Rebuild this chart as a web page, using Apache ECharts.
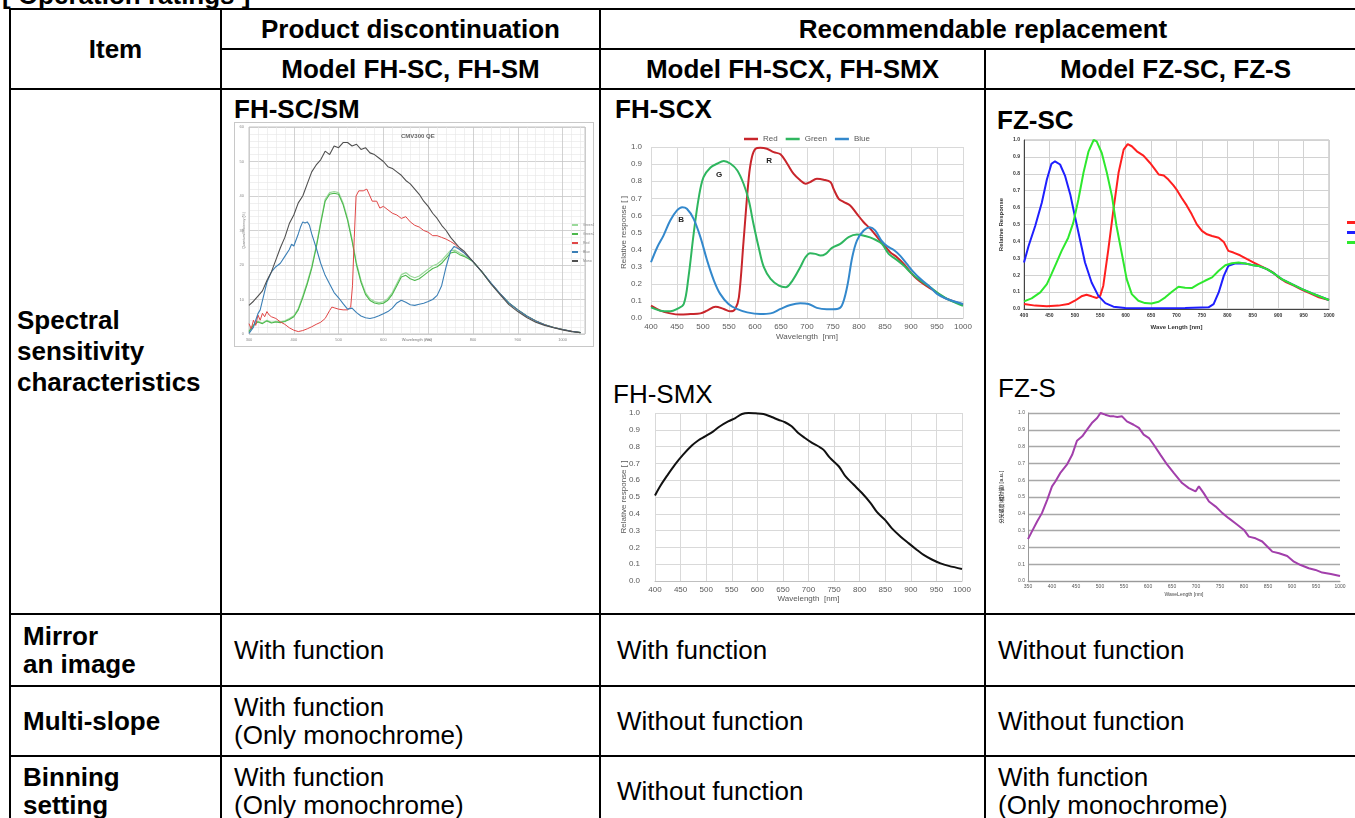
<!DOCTYPE html>
<html>
<head>
<meta charset="utf-8">
<title>Operation ratings</title>
<script src="https://cdn.jsdelivr.net/npm/echarts@6/dist/echarts.min.js"></script>
<style>
    html, body { margin: 0; padding: 0; overflow: hidden; background: #fff; }
    body { width: 1355px; height: 818px; position: relative; font-family: "Liberation Sans", Arial, sans-serif; color: #000; }
    .cell { position: absolute; box-sizing: border-box; border: 2px solid #000; display: flex; align-items: center;
            font-size: 26px; line-height: 28px; }
    .b { font-weight: bold; }
    .c { justify-content: center; text-align: center; }
    .sub { position: absolute; font-size: 26px; line-height: 26px; white-space: nowrap; }
    .chart { position: absolute; }
    .frame { position: absolute; box-sizing: border-box; border: 1px solid #c8c8c8; }
</style>
</head>
<body>

<div class="sub b" style="left:2px;top:-18px;">[ Operation ratings ]</div>

<!-- header -->
<div class="cell b c" style="left:9px;top:8px;width:213px;height:82px;">Item</div>
<div class="cell b c" style="left:220px;top:8px;width:381px;height:42px;">Product discontinuation</div>
<div class="cell b c" style="left:599px;top:8px;width:768px;height:42px;">Recommendable replacement</div>
<div class="cell b c" style="left:220px;top:48px;width:381px;height:42px;">Model FH-SC, FH-SM</div>
<div class="cell b c" style="left:599px;top:48px;width:387px;height:42px;">Model FH-SCX, FH-SMX</div>
<div class="cell b c" style="left:984px;top:48px;width:383px;height:42px;">Model FZ-SC, FZ-S</div>

<!-- spectral row -->
<div class="cell b" style="left:9px;top:88px;width:213px;height:527px;padding-left:6px;line-height:31px;">Spectral<br>sensitivity<br>characteristics</div>
<div class="cell" style="left:220px;top:88px;width:381px;height:527px;"></div>
<div class="cell" style="left:599px;top:88px;width:387px;height:527px;"></div>
<div class="cell" style="left:984px;top:88px;width:383px;height:527px;"></div>

<!-- mirror -->
<div class="cell b" style="left:9px;top:613px;width:213px;height:74px;padding-left:12px;">Mirror<br>an image</div>
<div class="cell" style="left:220px;top:613px;width:381px;height:74px;padding-left:12px;">With function</div>
<div class="cell" style="left:599px;top:613px;width:387px;height:74px;padding-left:16px;">With function</div>
<div class="cell" style="left:984px;top:613px;width:383px;height:74px;padding-left:12px;">Without function</div>

<!-- multi-slope -->
<div class="cell b" style="left:9px;top:685px;width:213px;height:72px;padding-left:12px;">Multi-slope</div>
<div class="cell" style="left:220px;top:685px;width:381px;height:72px;padding-left:12px;">With function<br>(Only monochrome)</div>
<div class="cell" style="left:599px;top:685px;width:387px;height:72px;padding-left:16px;">Without function</div>
<div class="cell" style="left:984px;top:685px;width:383px;height:72px;padding-left:12px;">Without function</div>

<!-- binning -->
<div class="cell b" style="left:9px;top:755px;width:213px;height:72px;padding-left:12px;">Binning<br>setting</div>
<div class="cell" style="left:220px;top:755px;width:381px;height:72px;padding-left:12px;">With function<br>(Only monochrome)</div>
<div class="cell" style="left:599px;top:755px;width:387px;height:72px;padding-left:16px;">Without function</div>
<div class="cell" style="left:984px;top:755px;width:383px;height:72px;padding-left:12px;">With function<br>(Only monochrome)</div>

<!-- chart sub titles -->
<div class="sub b" style="left:234px;top:96px;">FH-SC/SM</div>
<div class="sub b" style="left:615px;top:96px;">FH-SCX</div>
<div class="sub b" style="left:997px;top:107px;">FZ-SC</div>
<div class="sub" style="left:613px;top:381px;">FH-SMX</div>
<div class="sub" style="left:998px;top:375px;">FZ-S</div>

<div class="frame" style="left:234px;top:122px;width:360px;height:225px;"></div>
<div id="chartSM" class="chart" style="left:234px;top:122px;width:360px;height:225px;"></div>
<div id="chartSCX" class="chart" style="left:602px;top:122px;width:383px;height:228px;"></div>
<div id="chartFZSC" class="chart" style="left:987px;top:130px;width:400px;height:205px;"></div>
<div id="chartSMX" class="chart" style="left:602px;top:405px;width:383px;height:205px;"></div>
<div id="chartFZS" class="chart" style="left:987px;top:405px;width:368px;height:205px;"></div>

<script>
var FONT = '"Liberation Sans", Arial, sans-serif';

// ---- FH-SC / FH-SM (CMV300 QE, %) ----
var smGreen1 = [[300,0.8],[310,2.7],[320,3.7],[330,3.2],[340,4],[350,3.4],[360,3.7],[370,3.5],[380,3.8],[390,4.5],[400,5.3],[410,7.4],[420,11],[430,15],[440,19.5],[450,25.5],[460,32.5],[470,39],[480,41],[490,41.3],[500,41],[510,38],[520,33.5],[530,27.5],[540,20.5],[550,15.5],[560,12],[570,10.2],[580,9.4],[590,9.1],[600,9.3],[610,10.3],[620,12],[630,14.6],[640,17.2],[650,17.8],[660,16.8],[670,16.3],[680,16.8],[690,17.8],[700,18.8],[710,19.8],[720,20.3],[730,21.3],[740,22.8],[750,24.2],[760,24.3],[770,23.5],[780,22.8],[790,22],[800,21],[820,18],[840,14.7],[860,11.7],[880,9],[900,7],[920,5.2],[940,3.8],[960,2.7],[980,1.9],[1000,1.3],[1020,0.8],[1040,0.4]];
var smGreen2 = [[300,0.7],[310,2.5],[320,3.5],[330,3],[340,3.8],[350,3.2],[360,3.5],[370,3.3],[380,3.6],[390,4.2],[400,5],[410,7],[420,10.5],[430,14.5],[440,19],[450,25],[460,32],[470,38.5],[480,40.5],[490,40.8],[500,40.5],[510,37.5],[520,33],[530,27],[540,20],[550,15],[560,11.5],[570,9.7],[580,9],[590,8.7],[600,8.9],[610,9.8],[620,11.5],[630,14],[640,16.5],[650,17],[660,16],[670,15.5],[680,16],[690,17],[700,18],[710,19],[720,19.5],[730,20.5],[740,22],[750,23.5],[760,23.8],[770,23],[780,22.5],[790,21.8],[800,21],[820,18],[840,14.7],[860,11.7],[880,9],[900,7],[920,5.2],[940,3.8],[960,2.7],[980,1.9],[1000,1.3],[1020,0.8],[1040,0.4]];
var smRed = [[300,3],[305,1.5],[310,4],[315,2.5],[320,5.5],[325,4],[330,6],[335,5],[340,6.5],[345,5.5],[350,5],[360,4.5],[370,3.5],[380,2.8],[390,1.8],[400,1.1],[410,0.7],[420,1],[430,1.5],[440,2.1],[450,2.8],[460,3.4],[470,4.5],[480,6.8],[485,7.8],[490,7.6],[500,7.2],[510,7],[520,7],[527,7.8],[531,14],[535,28],[539,40],[545,41.5],[555,41.5],[563,42],[570,40],[575,38.5],[585,38.5],[592,36.5],[600,37],[610,36],[620,35],[630,34.5],[640,33.5],[650,34],[660,32.5],[670,31.5],[680,31],[690,30],[700,29.5],[710,28.5],[720,28.5],[730,28],[740,27.5],[750,26.8],[760,26],[770,24.5],[780,23.5],[790,22.3],[800,21],[820,18],[840,14.8],[860,11.8],[880,9],[900,7],[920,5.2],[940,3.8],[960,2.7],[980,1.9],[1000,1.3],[1020,0.8],[1040,0.4]];
var smBlue = [[300,0.2],[310,2],[315,4],[320,5.9],[325,7],[330,9.7],[340,15],[345,16.5],[350,18],[360,19.5],[370,20.5],[380,22.5],[390,24.5],[395,26],[400,25.5],[410,29],[415,31],[420,32.5],[425,32.2],[430,32.5],[435,31.5],[440,29],[450,25],[460,20.5],[470,17],[480,14.5],[490,12],[500,10.5],[510,8.8],[520,7.2],[530,7.5],[540,6.2],[550,5.2],[560,4.7],[570,4.5],[580,4.8],[590,5.3],[600,5.9],[610,6.5],[620,7.5],[630,9],[640,9.8],[650,9.2],[660,8.5],[670,8.3],[680,8.6],[690,8.9],[700,9.4],[710,10],[720,11.2],[730,14],[740,19.5],[750,24],[758,25.4],[770,24.5],[780,23.5],[790,22.3],[800,21],[820,18],[840,14.8],[860,11.8],[880,9],[900,7],[920,5.2],[940,3.8],[960,2.7],[980,1.9],[1000,1.3],[1020,0.8],[1040,0.4]];
var smMono = [[300,8.3],[310,9.5],[320,11],[330,12.5],[340,15.5],[350,18],[360,21.5],[370,25],[380,28],[390,32],[400,34.5],[410,38],[420,40],[430,43.5],[440,47],[450,49],[460,50.5],[470,53],[480,52],[490,54.5],[500,54],[510,55.5],[520,55.5],[530,54.5],[540,55],[550,53.5],[560,54],[570,52.5],[580,52],[590,51],[600,50],[610,48.5],[620,48],[630,47],[640,46],[650,44.5],[660,43.5],[670,42],[680,40.5],[690,38.5],[700,37],[710,35],[720,33.5],[730,31.5],[740,30],[750,28],[760,26.5],[770,25],[780,24],[790,22.5],[800,21],[820,18],[840,14.5],[860,11.5],[880,8.5],[900,6.5],[920,4.8],[940,3.4],[960,2.5],[980,1.8],[1000,1.2],[1020,0.7],[1040,0.4]];
var smNames = ['Green1', 'Green2', 'Red', 'Blue', 'Mono'];

// ---- FH-SCX (relative response) ----
var scxRed = [[400,0.072],[418,0.043],[437,0.027],[456,0.02],[476,0.023],[495,0.027],[508,0.043],[524,0.066],[540,0.053],[553,0.039],[562,0.053],[569,0.12],[578,0.45],[588,0.82],[594,0.94],[601,0.99],[610,0.996],[623,0.99],[636,0.97],[649,0.957],[662,0.902],[674,0.844],[687,0.805],[697,0.785],[706,0.795],[719,0.814],[732,0.809],[745,0.795],[751,0.756],[761,0.697],[771,0.678],[783,0.658],[796,0.609],[809,0.56],[822,0.521],[835,0.473],[847,0.43],[860,0.385],[873,0.355],[886,0.316],[899,0.268],[911,0.229],[924,0.199],[944,0.16],[963,0.121],[981,0.098],[1000,0.078]];
var scxGreen = [[400,0.062],[418,0.043],[437,0.039],[450,0.053],[463,0.082],[472,0.238],[482,0.492],[492,0.707],[501,0.824],[514,0.879],[527,0.902],[540,0.918],[553,0.902],[566,0.863],[578,0.785],[588,0.688],[597,0.551],[607,0.414],[617,0.297],[630,0.229],[646,0.189],[659,0.18],[672,0.219],[687,0.297],[697,0.355],[706,0.379],[716,0.375],[726,0.365],[736,0.375],[748,0.41],[764,0.434],[780,0.473],[796,0.488],[812,0.479],[828,0.463],[844,0.434],[857,0.375],[870,0.346],[886,0.307],[902,0.258],[918,0.219],[937,0.18],[956,0.137],[976,0.102],[1000,0.072]];
var scxBlue = [[400,0.326],[412,0.414],[424,0.482],[437,0.57],[450,0.629],[460,0.648],[469,0.639],[482,0.58],[495,0.473],[508,0.336],[521,0.219],[533,0.141],[549,0.082],[565,0.053],[585,0.033],[610,0.023],[630,0.027],[649,0.053],[668,0.076],[687,0.086],[703,0.082],[719,0.059],[738,0.051],[758,0.053],[767,0.072],[777,0.18],[787,0.355],[796,0.453],[809,0.512],[821,0.531],[831,0.512],[844,0.449],[854,0.42],[867,0.398],[879,0.365],[892,0.316],[905,0.268],[918,0.229],[934,0.189],[950,0.141],[969,0.111],[1000,0.082]];
var scxTags = [['R', 627, 0.918], ['G', 531, 0.84], ['B', 458, 0.575]];

// ---- FZ-SC ----
var fzscRed = [[400,0.029],[422,0.02],[445,0.016],[468,0.02],[487,0.029],[500,0.049],[513,0.075],[523,0.084],[533,0.075],[543,0.065],[550,0.079],[556,0.138],[566,0.354],[576,0.589],[586,0.806],[596,0.943],[604,0.976],[612,0.963],[622,0.933],[635,0.908],[648,0.864],[658,0.825],[665,0.796],[675,0.79],[684,0.766],[694,0.731],[701,0.703],[710,0.658],[720,0.613],[730,0.56],[740,0.501],[750,0.462],[760,0.442],[770,0.432],[783,0.422],[793,0.397],[802,0.344],[812,0.334],[825,0.318],[839,0.295],[852,0.275],[865,0.255],[875,0.24],[888,0.22],[901,0.187],[914,0.161],[931,0.138],[947,0.114],[963,0.092],[980,0.069],[1000,0.053]];
var fzscBlue = [[400,0.275],[409,0.373],[422,0.491],[435,0.629],[445,0.766],[454,0.859],[461,0.874],[471,0.855],[481,0.786],[491,0.678],[500,0.55],[510,0.413],[520,0.275],[533,0.157],[546,0.079],[560,0.035],[576,0.014],[599,0.006],[651,0.004],[717,0.006],[763,0.01],[773,0.029],[783,0.098],[793,0.196],[802,0.255],[816,0.271],[835,0.269],[848,0.261],[861,0.255],[878,0.236],[894,0.206],[907,0.177],[927,0.147],[947,0.118],[967,0.092],[1000,0.053]];
var fzscGreen = [[400,0.045],[415,0.063],[432,0.098],[445,0.147],[454,0.206],[464,0.275],[474,0.344],[487,0.422],[497,0.511],[507,0.648],[517,0.806],[527,0.933],[537,1.0],[543,0.992],[553,0.923],[563,0.806],[573,0.668],[582,0.491],[592,0.334],[602,0.177],[612,0.088],[625,0.049],[638,0.035],[651,0.033],[665,0.043],[678,0.069],[691,0.102],[704,0.132],[717,0.126],[730,0.124],[743,0.147],[756,0.167],[770,0.187],[783,0.226],[796,0.259],[809,0.271],[822,0.275],[835,0.269],[848,0.261],[861,0.255],[878,0.236],[894,0.206],[907,0.177],[927,0.147],[947,0.118],[967,0.092],[1000,0.053]];

// ---- FH-SMX ----
var smxMono = [[400,0.509],[410,0.564],[423,0.624],[439,0.693],[455,0.752],[472,0.806],[485,0.838],[498,0.861],[514,0.891],[527,0.921],[543,0.95],[557,0.97],[570,0.994],[583,1.0],[596,0.998],[612,0.994],[628,0.976],[641,0.96],[654,0.945],[667,0.921],[680,0.881],[693,0.851],[707,0.822],[719,0.802],[729,0.782],[742,0.733],[759,0.683],[772,0.624],[788,0.574],[804,0.525],[821,0.465],[834,0.41],[850,0.362],[863,0.313],[879,0.267],[896,0.224],[912,0.185],[925,0.155],[941,0.128],[958,0.105],[974,0.09],[1000,0.072]];

// ---- FZ-S ----
var fzsMono = [[350,0.249],[358,0.294],[369,0.354],[379,0.404],[390,0.483],[400,0.563],[407,0.592],[417,0.642],[431,0.692],[442,0.751],[452,0.835],[463,0.861],[473,0.901],[483,0.94],[494,0.97],[501,1.0],[511,0.99],[522,0.98],[529,0.98],[536,0.976],[546,0.98],[556,0.95],[570,0.93],[581,0.911],[591,0.871],[602,0.851],[612,0.811],[626,0.751],[640,0.692],[654,0.642],[671,0.583],[685,0.553],[699,0.533],[706,0.563],[716,0.523],[727,0.473],[741,0.443],[755,0.404],[768,0.374],[782,0.344],[800,0.304],[810,0.264],[824,0.254],[838,0.235],[852,0.195],[859,0.175],[873,0.165],[890,0.149],[904,0.115],[918,0.095],[935,0.076],[949,0.066],[963,0.05],[981,0.042],[1000,0.03]];

function lineSeries(name, data, color, width, smooth) {
    return {
        name: name, type: 'line', data: data, symbol: 'none', smooth: smooth ? 0.35 : false,
        lineStyle: { color: color, width: width }, itemStyle: { color: color }
    };
}
function oneDecimal(v) { return v.toFixed(1); }
function plain(v) { return String(v); }

// FH-SC/SM
var chartSM = echarts.init(document.getElementById('chartSM'));
chartSM.setOption({
    animation: false,
    title: { text: 'CMV300 QE', left: 162, top: 6, textStyle: { fontSize: 6, fontWeight: 'bold', color: '#666', fontFamily: FONT } },
    legend: { orient: 'vertical', left: 333, top: 96, itemWidth: 6, itemHeight: 2, itemGap: 5, icon: 'rect',
              textStyle: { fontSize: 3.5, color: '#888', fontFamily: FONT }, data: smNames },
    grid: { left: 10, top: 5, width: 341, height: 210, show: true, borderColor: '#c4c4c4', borderWidth: 1 },
    xAxis: {
        type: 'value', min: 300, max: 1050, interval: 100,
        axisLine: { show: false }, axisTick: { show: false },
        axisLabel: { fontSize: 4, color: '#888', margin: 4, fontFamily: FONT, showMaxLabel: false, formatter: plain },
        splitLine: { lineStyle: { color: '#c6c6c6', width: 0.8 } },
        minorTick: { show: false, splitNumber: 5 },
        minorSplitLine: { show: true, lineStyle: { color: '#e6e6e6', width: 0.6 } },
        name: 'Wavelength (nm)', nameLocation: 'middle', nameGap: 4, nameMoveOverlap: false,
        nameTextStyle: { fontSize: 4, color: '#777', fontFamily: FONT }
    },
    yAxis: {
        type: 'value', min: 0, max: 60, interval: 10,
        axisLine: { show: false }, axisTick: { show: false },
        axisLabel: { fontSize: 4, color: '#888', margin: 5, fontFamily: FONT },
        splitLine: { lineStyle: { color: '#c6c6c6', width: 0.8 } },
        minorTick: { show: false, splitNumber: 5 },
        minorSplitLine: { show: true, lineStyle: { color: '#e6e6e6', width: 0.6 } },
        name: 'Quantum Efficiency (%)', nameLocation: 'middle', nameGap: 3, nameMoveOverlap: false,
        nameTextStyle: { fontSize: 3.5, color: '#777', fontFamily: FONT }
    },
    series: [
        lineSeries('Green1', smGreen1, '#9ad99a', 1.2),
        lineSeries('Green2', smGreen2, '#4cb84c', 1.1),
        lineSeries('Red', smRed, '#e04646', 1),
        lineSeries('Blue', smBlue, '#3b7fb6', 1.1),
        lineSeries('Mono', smMono, '#505050', 1.1)
    ]
});

// FH-SCX
var scxSeries = [
    lineSeries('Red', scxRed, '#c8252b', 2, true),
    lineSeries('Green', scxGreen, '#2fb65f', 2, true),
    lineSeries('Blue', scxBlue, '#3388cc', 2, true)
];
scxSeries[0].markPoint = {
    symbol: 'circle', symbolSize: 0, silent: true,
    label: { show: true, position: 'inside', fontSize: 8, fontWeight: 'bold', color: '#222', fontFamily: FONT,
             formatter: function (p) { return p.name; } },
    data: scxTags.map(function (t) { return { name: t[0], coord: [t[1], t[2]] }; })
};
var chartSCX = echarts.init(document.getElementById('chartSCX'));
chartSCX.setOption({
    animation: false,
    legend: { top: 8, left: 137, itemWidth: 14, itemHeight: 2.5, itemGap: 8, icon: 'rect',
              textStyle: { fontSize: 8, color: '#595959', fontFamily: FONT }, data: ['Red', 'Green', 'Blue'] },
    grid: { left: 49, top: 25, width: 312, height: 171 },
    xAxis: {
        type: 'value', min: 400, max: 1000, interval: 50,
        axisLine: { lineStyle: { color: '#bfbfbf' } }, axisTick: { show: false },
        axisLabel: { fontSize: 8, color: '#595959', margin: 5, fontFamily: FONT, formatter: plain },
        splitLine: { lineStyle: { color: '#d9d9d9' } },
        name: 'Wavelength  [nm]', nameLocation: 'middle', nameGap: 15, nameMoveOverlap: false,
        nameTextStyle: { fontSize: 8, color: '#595959', fontFamily: FONT }
    },
    yAxis: {
        type: 'value', min: 0, max: 1, interval: 0.1,
        axisLine: { show: false }, axisTick: { show: false },
        axisLabel: { fontSize: 8, color: '#595959', margin: 9, fontFamily: FONT, formatter: oneDecimal },
        splitLine: { lineStyle: { color: '#d9d9d9' } },
        name: 'Relative response [ ]', nameLocation: 'middle', nameGap: 23, nameMoveOverlap: false,
        nameTextStyle: { fontSize: 8, color: '#595959', fontFamily: FONT }
    },
    series: scxSeries
});

// FZ-SC
var chartFZSC = echarts.init(document.getElementById('chartFZSC'));
chartFZSC.setOption({
    animation: false,
    legend: { orient: 'vertical', left: 355, top: 85, itemWidth: 12, itemHeight: 3, itemGap: 5, icon: 'rect',
              textStyle: { fontSize: 5, color: '#333', fontFamily: FONT }, data: ['Red', 'Blue', 'Green'] },
    grid: { left: 37, top: 10, width: 305, height: 170, show: true, borderColor: '#b0b0b0', borderWidth: 1 },
    xAxis: {
        type: 'value', min: 400, max: 1000, interval: 50,
        axisLine: { lineStyle: { color: '#444' } }, axisTick: { show: false },
        axisLabel: { fontSize: 5, fontWeight: 'bold', color: '#333', margin: 4, fontFamily: FONT, formatter: plain },
        splitLine: { lineStyle: { color: '#d2d2d2' } },
        name: 'Wave Length [nm]', nameLocation: 'middle', nameGap: 15, nameMoveOverlap: false,
        nameTextStyle: { fontSize: 6, fontWeight: 'bold', color: '#333', fontFamily: FONT }
    },
    yAxis: {
        type: 'value', min: 0, max: 1, interval: 0.1,
        axisLine: { show: true, lineStyle: { color: '#444' } }, axisTick: { show: false },
        axisLabel: { fontSize: 5, fontWeight: 'bold', color: '#333', margin: 4, fontFamily: FONT, formatter: oneDecimal },
        splitLine: { lineStyle: { color: '#d2d2d2' } },
        name: 'Relative Response', nameLocation: 'middle', nameGap: 20, nameMoveOverlap: false,
        nameTextStyle: { fontSize: 6, fontWeight: 'bold', color: '#333', fontFamily: FONT }
    },
    series: [
        lineSeries('Red', fzscRed, '#ff1f1f', 2),
        lineSeries('Blue', fzscBlue, '#1f1fff', 2),
        lineSeries('Green', fzscGreen, '#2ee82e', 2)
    ]
});

// FH-SMX
var chartSMX = echarts.init(document.getElementById('chartSMX'));
chartSMX.setOption({
    animation: false,
    grid: { left: 53, top: 8, width: 307, height: 168 },
    xAxis: {
        type: 'value', min: 400, max: 1000, interval: 50,
        axisLine: { lineStyle: { color: '#bfbfbf' } }, axisTick: { show: false },
        axisLabel: { fontSize: 8, color: '#595959', margin: 5, fontFamily: FONT, formatter: plain },
        splitLine: { lineStyle: { color: '#d9d9d9' } },
        name: 'Wavelength  [nm]', nameLocation: 'middle', nameGap: 14, nameMoveOverlap: false,
        nameTextStyle: { fontSize: 8, color: '#595959', fontFamily: FONT }
    },
    yAxis: {
        type: 'value', min: 0, max: 1, interval: 0.1,
        axisLine: { show: false }, axisTick: { show: false },
        axisLabel: { fontSize: 8, color: '#595959', margin: 15, fontFamily: FONT, formatter: oneDecimal },
        splitLine: { lineStyle: { color: '#d9d9d9' } },
        name: 'Relative response [ ]', nameLocation: 'middle', nameGap: 27, nameMoveOverlap: false,
        nameTextStyle: { fontSize: 8, color: '#595959', fontFamily: FONT }
    },
    series: [lineSeries('Mono', smxMono, '#111', 2, true)]
});

// FZ-S
var chartFZS = echarts.init(document.getElementById('chartFZS'));
chartFZS.setOption({
    animation: false,
    grid: { left: 41, top: 8, width: 312, height: 168 },
    xAxis: {
        type: 'value', min: 350, max: 1000, interval: 50,
        axisLine: { lineStyle: { color: '#999' } }, axisTick: { show: false },
        axisLabel: { fontSize: 5, color: '#555', margin: 3, fontFamily: FONT, formatter: plain },
        splitLine: { show: false },
        name: 'WaveLength [nm]', nameLocation: 'middle', nameGap: 11, nameMoveOverlap: false,
        nameTextStyle: { fontSize: 5, color: '#444', fontFamily: FONT }
    },
    yAxis: {
        type: 'value', min: 0, max: 1, interval: 0.1,
        axisLine: { show: true, lineStyle: { color: '#999' } }, axisTick: { show: false },
        axisLabel: { fontSize: 5, color: '#555', margin: 3, fontFamily: FONT, formatter: oneDecimal },
        splitLine: { lineStyle: { color: '#a8a8a8', width: 1.3 } },
        name: '分光感度(相対値) [a.u.]', nameLocation: 'middle', nameGap: 24, nameMoveOverlap: false,
        nameTextStyle: { fontSize: 5, fontWeight: 'bold', color: '#444', fontFamily: '"Noto Sans CJK JP", sans-serif' }
    },
    series: [lineSeries('Mono', fzsMono, '#a23fab', 2)]
});
</script>
</body>
</html>
